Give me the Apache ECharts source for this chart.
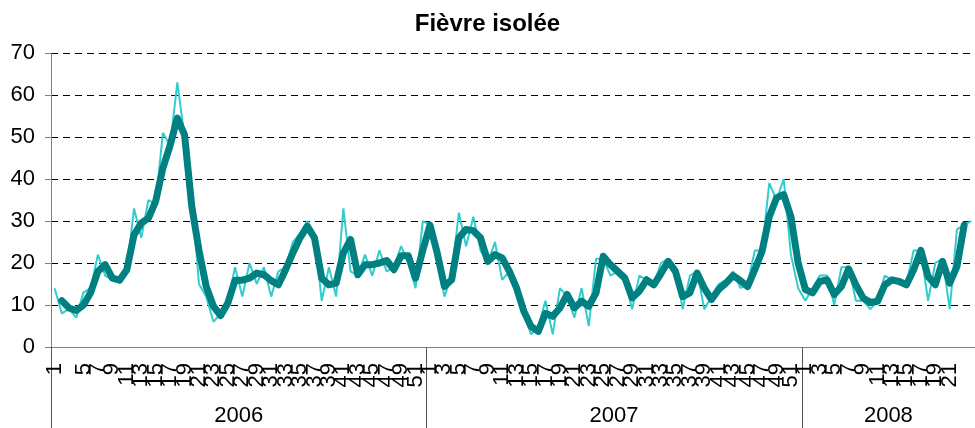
<!DOCTYPE html>
<html>
<head>
<meta charset="utf-8">
<script src="https://cdn.jsdelivr.net/npm/echarts@6/dist/echarts.min.js"></script>
<style>
  html, body { margin: 0; padding: 0; background: #fff; }
  #chart { width: 975px; height: 428px; }
</style>
</head>
<body>
<div id="chart"></div>
<script>
// weekly counts, thin line
var raw2006 = [14, 8, 9, 7, 13, 14, 22, 17, 16, 16, 18, 33, 26, 35, 34, 51, 48, 63, 50, 36,
  15, 12, 6, 8, 11, 19, 12, 20, 15, 19, 12, 18, 19, 25, 27, 30, 27, 11, 19, 12,
  33, 18, 17, 22, 17, 23, 18, 19, 24, 20, 14, 30];
var raw2007 = [29, 21, 12, 17, 32, 24, 31, 23, 20, 25, 16, 18, 14, 8, 3, 5, 11, 3, 14, 12,
  7, 14, 5, 21, 21, 17, 18, 16, 9, 17, 16, 15, 20, 21, 19, 9, 17, 18, 9, 12,
  15, 16, 18, 14, 15, 23, 23, 39, 35, 40, 22, 14];
var raw2008 = [11, 14, 17, 17, 10, 19, 19, 11, 11, 9, 11, 17, 16, 16, 15, 23, 23, 11, 20, 21,
  9, 28, 29, 30];

// smoothed line, thick
var avg2006 = [null, 11, 9.3, 8.7, 10, 13, 18, 19.6, 16.4, 15.9, 18.4, 26.7, 29.5, 30.7, 34.7, 42.6, 48, 54.5, 50.5, 33.5,
  23, 14.4, 9.7, 7.5, 10.5, 15.9, 15.9, 16.4, 17.6, 17.2, 15.8, 14.8, 18.4, 22.4, 26, 28.7, 26, 16.4, 14.8, 15.2,
  22.4, 25.6, 17.2, 19.6, 19.6, 20, 20.6, 18.4, 21.7, 21.7, 16.4, 23];
var avg2007 = [29, 22.4, 14.4, 16, 26, 28, 27.7, 26, 20.4, 22, 21.2, 18, 14, 8.5, 4.9, 3.7, 8, 7.3, 9.3, 12.5,
  9.3, 10.9, 9.7, 12.9, 21.6, 19.6, 18, 16.4, 11.7, 13.3, 16, 14.8, 17.5, 20.4, 18, 12, 12.9, 17.6, 14, 11.3,
  13.7, 15.2, 17, 15.8, 14.4, 18.4, 22.8, 31, 35.5, 36.3, 31, 20];
var avg2008 = [13.7, 12.9, 15.6, 16, 12.5, 14.4, 18.6, 14.8, 11.7, 10.6, 10.9, 14.8, 16, 15.6, 14.8, 18.4, 23, 16.8, 14.8, 20.4,
  15.2, 19.2, 29, null];

var years = ['2006', '2007', '2008'];
var weeksPerYear = [52, 52, 24];
var yTicks = [0, 10, 20, 30, 40, 50, 60, 70];

var weekCats = [];
var yearBounds = [];
var yearMids = [];
var pos = 0;
weeksPerYear.forEach(function (n) {
  yearBounds.push(pos);
  for (var w = 1; w <= n; w++) weekCats.push(String(w));
  yearMids.push(pos + n / 2);
  pos += n;
});

var rawData = raw2006.concat(raw2007, raw2008);
var avgData = avg2006.concat(avg2007, avg2008);

var font = 'Liberation Sans, Arial, sans-serif';
var chart = echarts.init(document.getElementById('chart'));
chart.setOption({
  animation: false,
  title: {
    text: 'Fièvre isolée',
    left: 'center',
    top: 7,
    textStyle: { fontSize: 24, fontWeight: 'bold', color: '#000', fontFamily: font }
  },
  grid: { left: 51, top: 53, bottom: 81, right: -10.4 },
  xAxis: [{
    type: 'category',
    data: weekCats,
    boundaryGap: true,
    axisLine: { lineStyle: { color: '#808080', width: 1 } },
    axisTick: { interval: 0, length: 41, lineStyle: { color: '#333', width: 1 } },
    axisLabel: {
      interval: function (i, v) { return Number(v) % 2 === 1; },
      showMinLabel: true,
      rotate: 90,
      margin: 16,
      fontSize: 22,
      color: '#000',
      fontFamily: font
    },
    splitLine: { show: false }
  }, {
    type: 'value',
    position: 'bottom',
    min: 0,
    max: weekCats.length,
    axisLine: { show: false },
    axisTick: { show: true, customValues: yearBounds, length: 81, lineStyle: { color: '#555', width: 1 } },
    axisLabel: {
      customValues: yearMids,
      formatter: function (v) { return years[yearMids.indexOf(v)] || ''; },
      margin: 58,
      fontSize: 22,
      color: '#000',
      fontFamily: font
    },
    splitLine: { show: false }
  }],
  yAxis: {
    type: 'value',
    min: yTicks[0],
    max: yTicks[yTicks.length - 1],
    interval: 10,
    axisLine: { show: true, lineStyle: { color: '#808080', width: 1 } },
    axisTick: { show: true, length: 6, lineStyle: { color: '#808080' } },
    axisLabel: { fontSize: 22, color: '#000', margin: 16, fontFamily: font },
    splitLine: { lineStyle: { color: '#000', type: [7, 5], width: 1 } }
  },
  series: [{
    name: 'hebdo',
    type: 'line',
    data: rawData,
    symbol: 'none',
    lineStyle: { color: '#33CCCC', width: 2 },
    z: 2
  }, {
    name: 'moyenne',
    type: 'line',
    data: avgData,
    symbol: 'none',
    lineStyle: { color: '#008080', width: 7, join: 'round', cap: 'round' },
    z: 3
  }]
});
</script>
</body>
</html>
